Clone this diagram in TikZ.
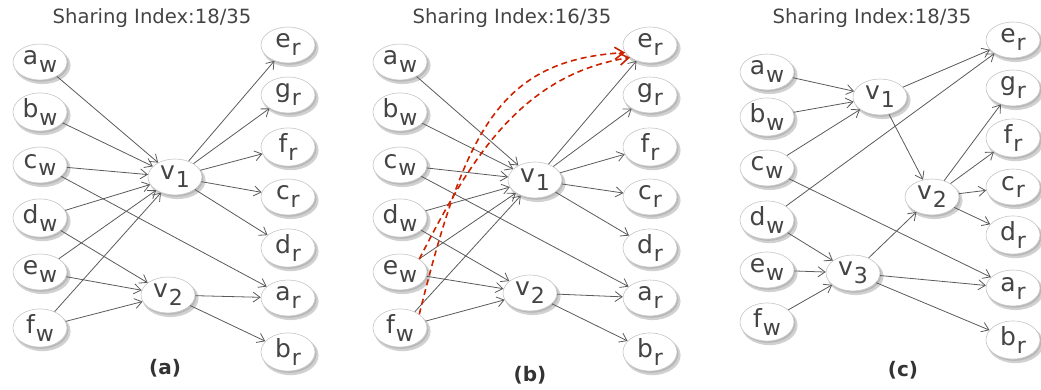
\documentclass[tikz,border=0pt]{standalone}
\usepackage{fontspec}
\setmainfont{DejaVu Sans}
\usepackage{xcolor}
\usetikzlibrary{shapes.geometric,arrows.meta,shadows}

\definecolor{txtgray}{HTML}{444444}
\definecolor{edgegray}{HTML}{5A5A5A}
\definecolor{hintred}{HTML}{CC2200}

% letter with a lowered index, as in the vertex labels
\newcommand{\sublab}[2]{#1\kern0.4pt\raisebox{-4pt}{\fontsize{11}{11}\selectfont #2}}

\begin{document}
\begin{tikzpicture}[x=0.5pt, y=-0.5pt,
    vtx/.style={ellipse, fill=white, draw=gray!45, line width=0.3pt,
        minimum width=27pt, minimum height=18pt, inner sep=0pt,
        text=txtgray, font=\fontsize{12.5}{12.5}\selectfont,
        drop shadow={shadow xshift=1.2pt, shadow yshift=-1.6pt, shadow scale=1.04, opacity=0.18, fill=black},
        drop shadow={shadow xshift=0.7pt, shadow yshift=-0.9pt, opacity=0.3, fill=gray}},
    link/.style={-{Straight Barb[length=3.5pt,width=5pt]}, draw=edgegray, line width=0.4pt},
    hint/.style={-{Straight Barb[length=4.5pt,width=6pt]}, draw=hintred, line width=0.8pt,
        dash pattern=on 3pt off 2pt},
    ttl/.style={text=txtgray, font=\fontsize{9.8}{10}\selectfont},
    caplab/.style={text=black!80, font=\fontsize{10}{10}\selectfont\bfseries}]

    \useasboundingbox (0,0) rectangle (1041,390);

    % ---------------- (a) ----------------
    \node[ttl] (ttl-a) at (152,18) {Sharing Index:18/35};
    \foreach \n/\y in {a/62,b/112,c/165,d/218,e/272,f/328}
        \node[vtx] (\n w-a) at (40,\y) {\sublab{\n}{w}};
    \foreach \n/\y in {e/45,g/95,f/147,c/197,d/248,a/298,b/352}
        \node[vtx] (\n r-a) at (288,\y) {\sublab{\n}{r}};
    \node[vtx] (v1-a) at (175,177) {\sublab{v}{1}};
    \node[vtx] (v2-a) at (168,295) {\sublab{v}{2}};
    \node[caplab] (cap-a) at (165,368) {(a)};

    \foreach \s in {aw,bw,cw,dw,ew,fw} \draw[link] (\s-a) -- (v1-a);
    \foreach \t in {er,gr,fr,cr,dr} \draw[link] (v1-a) -- (\t-a);
    \foreach \s in {dw,ew,fw} \draw[link] (\s-a) -- (v2-a);
    \draw[link] (cw-a) -- (ar-a);
    \draw[link] (v2-a) -- (ar-a);
    \draw[link] (v2-a) -- (br-a);

    % ---------------- (b) ----------------
    \node[ttl] (ttl-b) at (512,18) {Sharing Index:16/35};
    \foreach \n/\y in {a/62,b/112,c/165,d/218,e/272,f/328}
        \node[vtx] (\n w-b) at (400,\y) {\sublab{\n}{w}};
    \foreach \n/\y in {e/45,g/95,f/147,c/197,d/248,a/298,b/352}
        \node[vtx] (\n r-b) at (650,\y) {\sublab{\n}{r}};
    \node[vtx] (v1-b) at (535,180) {\sublab{v}{1}};
    \node[vtx] (v2-b) at (530,293) {\sublab{v}{2}};
    \node[caplab] (cap-b) at (530,375) {(b)};

    \foreach \s in {aw,bw,cw,dw,ew,fw} \draw[link] (\s-b) -- (v1-b);
    \foreach \t in {er,gr,fr,cr,dr} \draw[link] (v1-b) -- (\t-b);
    \foreach \s in {dw,ew,fw} \draw[link] (\s-b) -- (v2-b);
    \draw[link] (cw-b) -- (ar-b);
    \draw[link] (v2-b) -- (ar-b);
    \draw[link] (v2-b) -- (br-b);

    % direct routes that skip v1
    \draw[hint] (ew-b.north east) .. controls (470,160) and (520,75) .. (er-b.212);
    \draw[hint] (fw-b.north east) .. controls (465,130) and (500,60) .. (er-b.197);

    % ---------------- (c) ----------------
    \node[ttl] (ttl-c) at (872,18) {Sharing Index:18/35};
    \foreach \n/\y in {a/72,b/117,c/168,d/220,e/270,f/322}
        \node[vtx] (\n w-c) at (767,\y) {\sublab{\n}{w}};
    \foreach \n/\y in {e/40,g/88,f/138,c/187,d/235,a/288,b/340}
        \node[vtx] (\n r-c) at (1013,\y) {\sublab{\n}{r}};
    \node[vtx] (v1-c) at (880,97) {\sublab{v}{1}};
    \node[vtx] (v2-c) at (932,197) {\sublab{v}{2}};
    \node[vtx] (v3-c) at (853,273) {\sublab{v}{3}};
    \node[caplab] (cap-c) at (903,370) {(c)};

    \foreach \s in {aw,bw,cw} \draw[link] (\s-c) -- (v1-c);
    \foreach \s in {dw,ew,fw} \draw[link] (\s-c) -- (v3-c);
    \foreach \t in {gr,fr,cr,dr} \draw[link] (v2-c) -- (\t-c);
    \draw[link] (v1-c) -- (er-c);
    \draw[link] (dw-c) -- (er-c);
    \draw[link] (cw-c) -- (ar-c);
    \draw[link] (v1-c) -- (v2-c);
    \draw[link] (v3-c) -- (v2-c);
    \draw[link] (v3-c) -- (ar-c);
    \draw[link] (v3-c) -- (br-c);

\end{tikzpicture}
\end{document}
